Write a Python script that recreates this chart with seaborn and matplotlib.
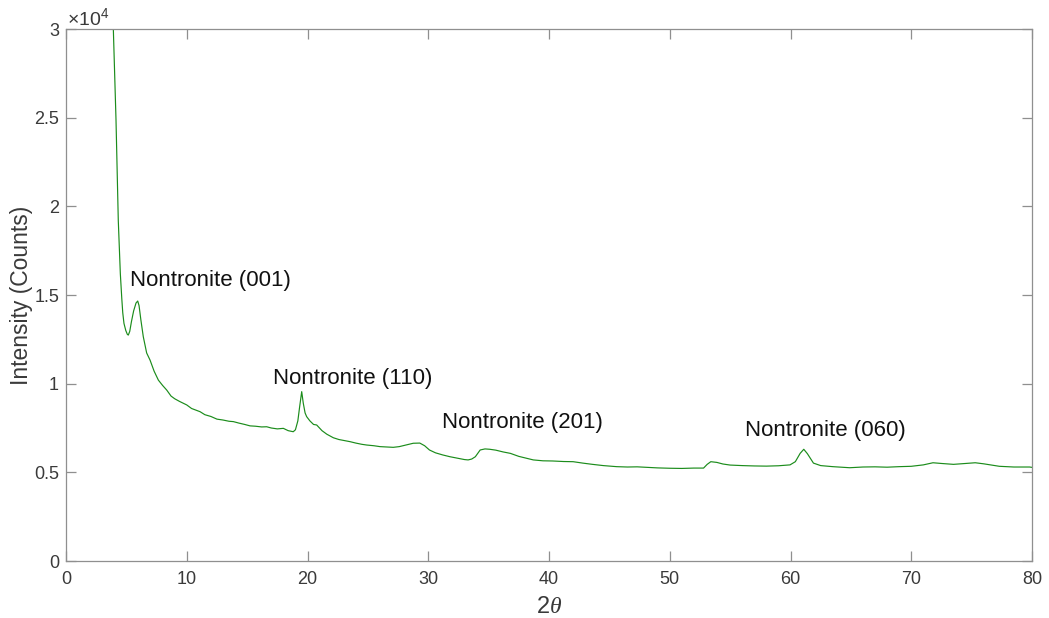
import matplotlib
matplotlib.use("Agg")
import matplotlib.pyplot as plt
import seaborn as sns
import pandas as pd

# XRD pattern: diffraction angle (2θ, degrees) and detector counts
two_theta = [
    3.80, 3.92, 4.14, 4.33, 4.50, 4.62, 4.70, 4.80, 4.95, 5.08, 5.16, 5.28,
    5.42, 5.60, 5.80, 5.94, 6.05, 6.20, 6.40, 6.68, 6.96, 7.30, 7.65, 8.00,
    8.34, 8.70, 9.00, 9.40, 9.72, 10.0, 10.4, 10.8, 11.1, 11.5, 12.0, 12.5,
    13.0, 13.5, 13.86, 14.3, 14.8, 15.24, 15.7, 16.2, 16.62, 17.0, 17.5, 18.0,
    18.4, 18.82, 19.0, 19.2, 19.35, 19.52, 19.65, 19.8, 19.93, 20.2, 20.5,
    20.76, 21.2, 21.6, 22.14, 22.6, 23.0, 23.52, 24.0, 24.5, 24.9, 25.5, 26.0,
    26.5, 27.1, 27.6, 28.2, 28.76, 29.3, 29.7, 30.1, 30.6, 31.2, 31.8, 32.4,
    33.0, 33.3, 33.6, 33.9, 34.3, 34.7, 35.1, 35.6, 36.2, 36.8, 37.5, 38.2,
    38.7, 39.5, 40.3, 41.2, 42.0, 42.8, 43.6, 44.5, 45.6, 46.5, 47.3, 48.1,
    49.0, 50.0, 51.0, 52.0, 52.8, 53.1, 53.4, 53.9, 54.4, 55.0, 56.0, 57.0,
    58.0, 59.0, 59.96, 60.4, 60.8, 61.1, 61.4, 61.9, 62.5, 63.5, 64.9, 66.0,
    67.0, 68.0, 69.0, 70.0, 71.0, 71.8, 72.5, 73.5, 74.5, 75.3, 76.0, 77.3,
    78.5, 79.8, 80.0,
]
counts = [
    32000, 30000, 24900, 19200, 16200, 14800, 14000, 13400, 13000, 12780, 12740, 12950,
    13500, 14100, 14550, 14660, 14400, 13600, 12650, 11730, 11330, 10700, 10200, 9900,
    9640, 9300, 9150, 9000, 8890, 8800, 8600, 8500, 8420, 8250, 8150, 8000,
    7950, 7880, 7860, 7780, 7700, 7620, 7600, 7560, 7570, 7500, 7450, 7480,
    7350, 7290, 7400, 7900, 8700, 9550, 8900, 8350, 8140, 7900, 7700,
    7670, 7350, 7150, 6950, 6850, 6800, 6730, 6650, 6580, 6540, 6500, 6450,
    6430, 6410, 6450, 6550, 6640, 6650, 6500, 6260, 6100, 5980, 5880, 5800,
    5720, 5700, 5750, 5880, 6260, 6320, 6300, 6250, 6150, 6070, 5900, 5780,
    5700, 5650, 5640, 5610, 5600, 5520, 5450, 5380, 5320, 5300, 5310, 5280,
    5250, 5230, 5220, 5240, 5240, 5450, 5600, 5560, 5470, 5410, 5380, 5360,
    5350, 5370, 5420, 5600, 6070, 6300, 6050, 5520, 5380, 5320, 5260, 5300,
    5310, 5290, 5320, 5340, 5420, 5540, 5500, 5450, 5500, 5540, 5480, 5340,
    5300, 5300, 5280,
]

# Peak labels and where they sit (2θ, counts at text baseline)
peak_labels = ["Nontronite (001)", "Nontronite (110)", "Nontronite (201)", "Nontronite (060)"]
label_x = [5.30, 17.12, 31.11, 56.23]
label_y = [15500, 9980, 7480, 7050]

x_ticks = [0, 10, 20, 30, 40, 50, 60, 70, 80]
y_ticks = [0, 5000, 10000, 15000, 20000, 25000, 30000]
y_tick_labels = ["0", "0.5", "1", "1.5", "2", "2.5", "3"]

sns.set_theme(style="white")
plt.rcParams["font.family"] = ["Liberation Sans", "DejaVu Sans"]
plt.rcParams["mathtext.fontset"] = "custom"
plt.rcParams["mathtext.rm"] = "Liberation Sans"
plt.rcParams["mathtext.it"] = "Liberation Serif:italic"

axis_grey = "#8f8f8f"
text_grey = "#3a3a3a"

fig = plt.figure(figsize=(10.49, 6.18), dpi=100)
ax = fig.add_axes([66 / 1049, 1 - 561 / 618, (1032 - 66) / 1049, (561 - 29) / 618])

df = pd.DataFrame({"two_theta": two_theta, "counts": counts})
sns.lineplot(data=df, x="two_theta", y="counts", ax=ax, color="#1b8c1b",
             linewidth=0.85, estimator=None, sort=False)

ax.set_xlim(0, 80)
ax.set_ylim(0, 30000)
ax.set_xticks(x_ticks)
ax.set_xticklabels([str(v) for v in x_ticks])
ax.set_yticks(y_ticks)
ax.set_yticklabels(y_tick_labels)

for side in ["left", "right", "top", "bottom"]:
    ax.spines[side].set_visible(True)
    ax.spines[side].set_color(axis_grey)
    ax.spines[side].set_linewidth(0.9)

ax.tick_params(axis="both", which="major", direction="in", length=7, width=0.9,
               color=axis_grey, labelcolor=text_grey, labelsize=13,
               top=True, right=True, bottom=True, left=True)
ax.tick_params(axis="x", pad=7)
ax.tick_params(axis="y", pad=5)

ax.set_xlabel(r"$\mathrm{2}\mathit{\theta}$", fontsize=17, color=text_grey, labelpad=6)
ax.set_ylabel("Intensity (Counts)", fontsize=16.5, color=text_grey, labelpad=0.5)

ax.text(0.001, 1.0075, r"$\mathrm{\times10^{4}}$", transform=ax.transAxes,
        fontsize=14, color=text_grey, ha="left", va="baseline")

for lbl, lx, ly in zip(peak_labels, label_x, label_y):
    ax.text(lx, ly, lbl, fontsize=16, color="#111111", ha="left", va="baseline")

fig.savefig("out.png", dpi=100)
